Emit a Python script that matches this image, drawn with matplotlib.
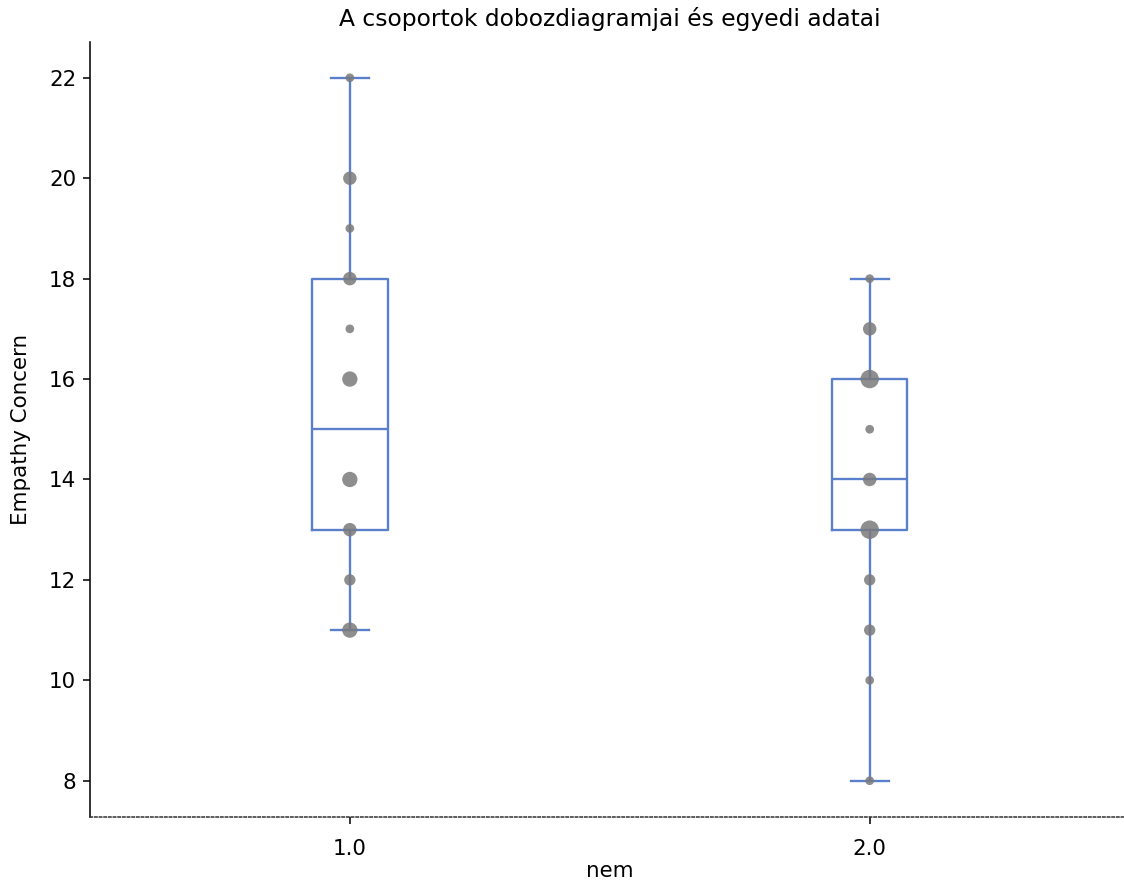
import numpy as np
import matplotlib
matplotlib.use("Agg")
import matplotlib.pyplot as plt

# Data: values and their counts per group
groups = ["1.0", "2.0"]
g1_values = [11, 12, 13, 14, 16, 17, 18, 19, 20, 22]
g1_counts = [4, 2, 3, 4, 4, 1, 3, 1, 3, 1]
g2_values = [8, 10, 11, 12, 13, 14, 15, 16, 17, 18]
g2_counts = [1, 1, 2, 2, 6, 3, 1, 6, 3, 1]

title = "A csoportok dobozdiagramjai és egyedi adatai"
xlabel = "nem"
ylabel = "Empathy Concern"
yticks = [8, 10, 12, 14, 16, 18, 20, 22]

box_color = "#5a80cc"
plt.rcParams["font.size"] = 11

fig = plt.figure(figsize=(1124 / 140, 886 / 140), dpi=140)
ax = fig.add_axes([0.080, 0.078, 0.925, 0.875])

data = [np.repeat(g1_values, g1_counts), np.repeat(g2_values, g2_counts)]
positions = [1, 2]

ax.boxplot(data, positions=positions, widths=0.145, whis=(0, 100),
           showfliers=False, patch_artist=False,
           boxprops=dict(color=box_color, linewidth=1.2),
           whiskerprops=dict(color=box_color, linewidth=1.2),
           capprops=dict(color=box_color, linewidth=1.2),
           medianprops=dict(color=box_color, linewidth=1.2))

for pos, vals, cnts in zip(positions, [g1_values, g2_values], [g1_counts, g2_counts]):
    sizes = 6 + 14 * np.array(cnts)
    ax.scatter(np.full(len(vals), pos), vals, s=sizes, color="#7a7a7a",
               alpha=0.85, zorder=3, linewidths=0)

ax.set_xlim(0.5, 2.5)
ax.set_ylim(7.28, 22.72)
ax.set_xticks(positions)
ax.set_xticklabels(groups)
ax.set_yticks(yticks)
ax.tick_params(axis="x", pad=8)
ax.set_xlabel(xlabel, labelpad=1)
ax.set_ylabel(ylabel, labelpad=9)
ax.set_title(title, fontsize=12, pad=8)

ax.spines["top"].set_visible(False)
ax.spines["right"].set_visible(False)
ax.spines["bottom"].set_linestyle((0, (1.5, 1.5)))
ax.spines["bottom"].set_color("#333333")

fig.savefig("out.png", dpi=140)
